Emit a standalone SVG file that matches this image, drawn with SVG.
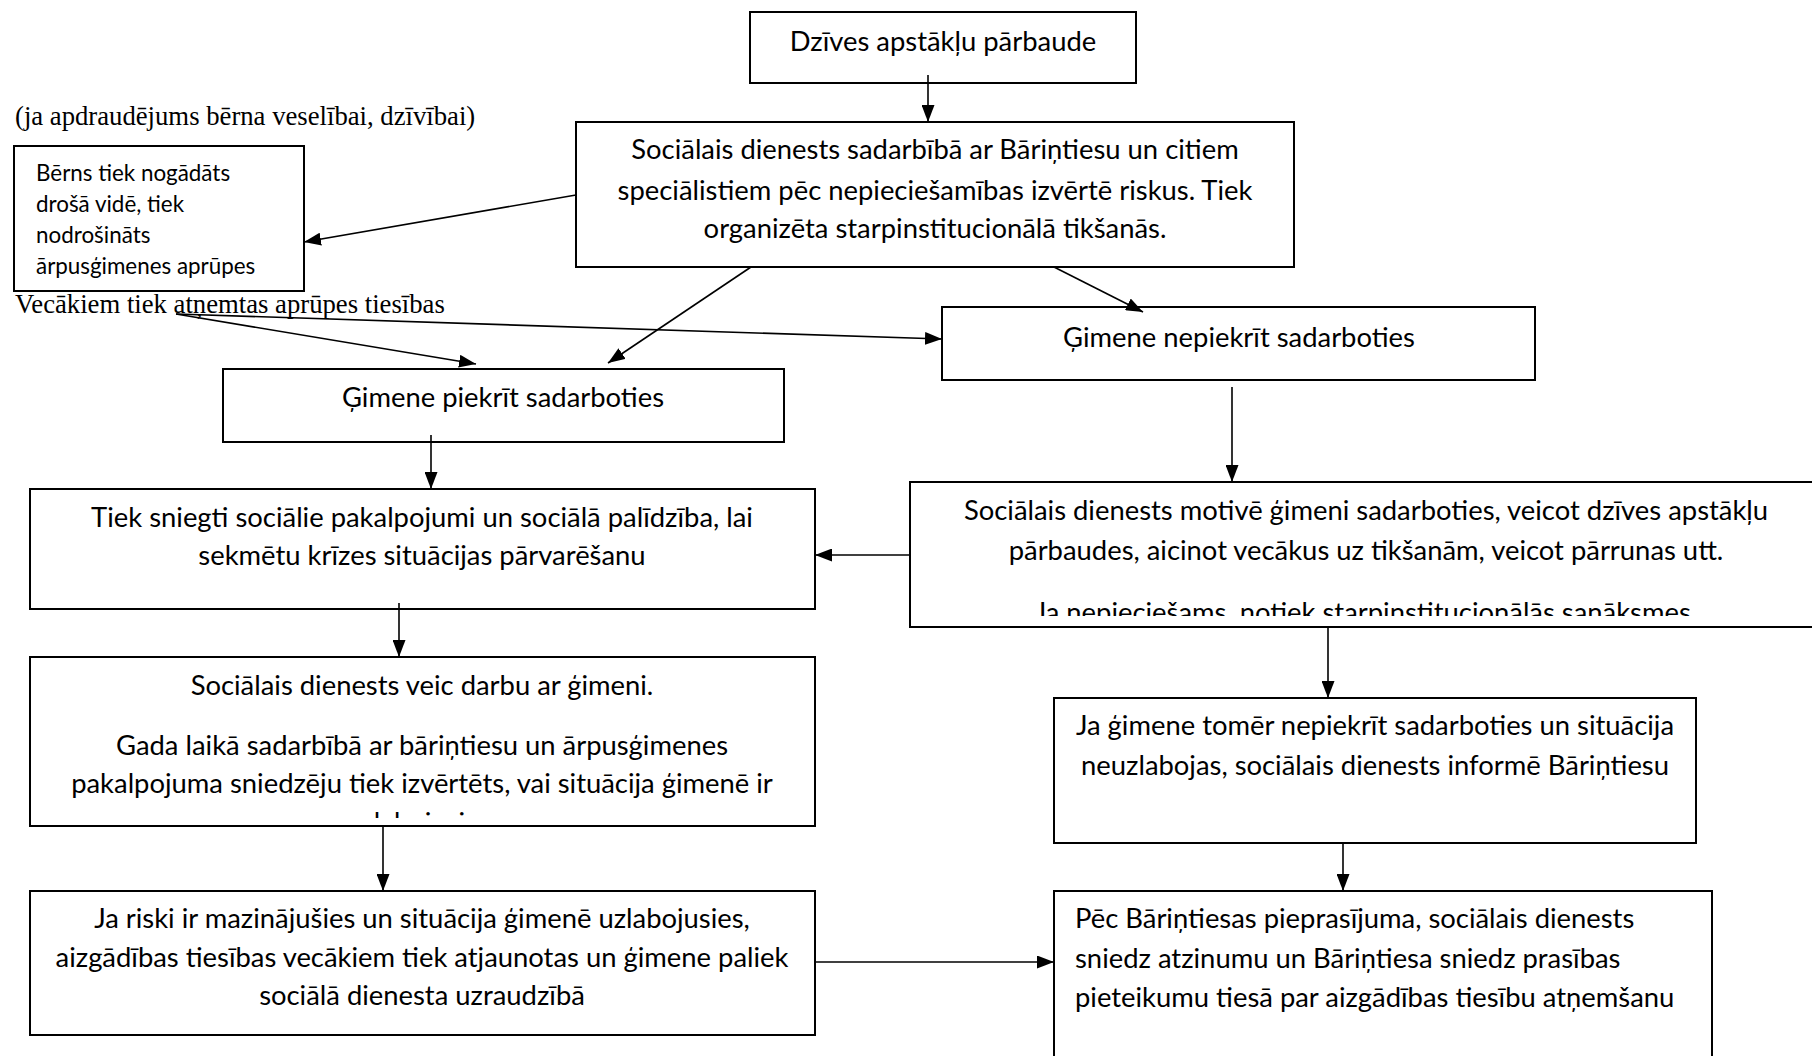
<svg xmlns="http://www.w3.org/2000/svg" width="1812" height="1056" viewBox="0 0 1812 1056">
<style>
.box{fill:#fff;stroke:#000;stroke-width:2}
.t{font-family:"Lato","Open Sans","Liberation Sans",sans-serif;font-size:27.4px;fill:#000}
.c{text-anchor:middle}
.s{font-size:22.4px}
.serif{font-family:"Liberation Serif","Times New Roman",serif;font-size:26.7px;fill:#000}
.ln{stroke:#000;stroke-width:1.6;fill:none;marker-end:url(#ah)}
</style>
<defs>
<marker id="ah" markerUnits="userSpaceOnUse" markerWidth="17" markerHeight="13" viewBox="0 0 17 13" refX="17" refY="6.5" orient="auto">
<path d="M0,0 L17,6.5 L0,13 Z" fill="#000"/>
</marker>
<clipPath id="clipMot"><rect x="910" y="482" width="912" height="134"/></clipPath>
<clipPath id="clipDarbu"><rect x="30" y="657" width="785" height="161"/></clipPath>
</defs>
<rect width="1812" height="1056" fill="#fff"/>

<g id="label-apdraudejums"><text class="serif" x="15" y="125">(ja apdraudējums bērna veselībai, dzīvībai)</text></g>
<g id="label-vecakiem"><text class="serif" x="15" y="313">Vecākiem tiek atņemtas aprūpes tiesības</text></g>

<g id="n-dzives">
<rect class="box" x="750" y="12" width="386" height="71"/>
<text class="t c" x="943" y="51">Dzīves apstākļu pārbaude</text>
</g>

<g id="n-socialais">
<rect class="box" x="576" y="122" width="718" height="145"/>
<text class="t c" x="935" y="159">Sociālais dienests sadarbībā ar Bāriņtiesu un citiem</text>
<text class="t c" x="935" y="200">speciālistiem pēc nepieciešamības izvērtē riskus. Tiek</text>
<text class="t c" x="935" y="238">organizēta starpinstitucionālā tikšanās.</text>
</g>

<g id="n-berns">
<rect class="box" x="14" y="146" width="290" height="145"/>
<text class="t s" x="36" y="181">Bērns tiek nogādāts</text>
<text class="t s" x="36" y="212">drošā vidē, tiek</text>
<text class="t s" x="36" y="243">nodrošināts</text>
<text class="t s" x="36" y="274">ārpusģimenes aprūpes</text>
</g>

<g id="n-nepiekrit">
<rect class="box" x="942" y="307" width="593" height="73"/>
<text class="t c" x="1239" y="347">Ģimene nepiekrīt sadarboties</text>
</g>

<g id="n-piekrit">
<rect class="box" x="223" y="369" width="561" height="73"/>
<text class="t c" x="503" y="407">Ģimene piekrīt sadarboties</text>
</g>

<g id="n-tiek">
<rect class="box" x="30" y="489" width="785" height="120"/>
<text class="t c" x="422" y="527">Tiek sniegti sociālie pakalpojumi un sociālā palīdzība, lai</text>
<text class="t c" x="422" y="565">sekmētu krīzes situācijas pārvarēšanu</text>
</g>

<g id="n-motive">
<rect class="box" x="910" y="482" width="920" height="145"/>
<text class="t c" x="1366" y="520">Sociālais dienests motivē ģimeni sadarboties, veicot dzīves apstākļu</text>
<text class="t c" x="1366" y="560">pārbaudes, aicinot vecākus uz tikšanām, veicot pārrunas utt.</text>
<text class="t c" x="1366" y="622" clip-path="url(#clipMot)">Ja nepieciešams, notiek starpinstitucionālās sanāksmes.</text>
</g>

<g id="n-darbu">
<rect class="box" x="30" y="657" width="785" height="169"/>
<text class="t c" x="422" y="695">Sociālais dienests veic darbu ar ģimeni.</text>
<text class="t c" x="422" y="755">Gada laikā sadarbībā ar bāriņtiesu un ārpusģimenes</text>
<text class="t c" x="422" y="793">pakalpojuma sniedzēju tiek izvērtēts, vai situācija ģimenē ir</text>
<text class="t c" x="422" y="832" clip-path="url(#clipDarbu)">uzlabojusies.</text>
</g>

<g id="n-tomer">
<rect class="box" x="1054" y="698" width="642" height="145"/>
<text class="t c" x="1375" y="735">Ja ģimene tomēr nepiekrīt sadarboties un situācija</text>
<text class="t c" x="1375" y="775">neuzlabojas, sociālais dienests informē Bāriņtiesu</text>
</g>

<g id="n-riski">
<rect class="box" x="30" y="891" width="785" height="144"/>
<text class="t c" x="422" y="928">Ja riski ir mazinājušies un situācija ģimenē uzlabojusies,</text>
<text class="t c" x="422" y="967">aizgādības tiesības vecākiem tiek atjaunotas un ģimene paliek</text>
<text class="t c" x="422" y="1005">sociālā dienesta uzraudzībā</text>
</g>

<g id="n-pec">
<rect class="box" x="1054" y="891" width="658" height="180"/>
<text class="t" x="1075" y="928">Pēc Bāriņtiesas pieprasījuma, sociālais dienests</text>
<text class="t" x="1075" y="968">sniedz atzinumu un Bāriņtiesa sniedz prasības</text>
<text class="t" x="1075" y="1007">pieteikumu tiesā par aizgādības tiesību atņemšanu</text>
</g>

<g id="connectors">
<line class="ln" x1="928" y1="75" x2="928" y2="122"/>
<line class="ln" x1="576" y1="195" x2="304" y2="242"/>
<line class="ln" x1="751" y1="267" x2="608" y2="363"/>
<line class="ln" x1="1054" y1="267" x2="1143" y2="312"/>
<line class="ln" x1="176" y1="314" x2="476" y2="364"/>
<line class="ln" x1="176" y1="314" x2="942" y2="339"/>
<line class="ln" x1="431" y1="435" x2="431" y2="489"/>
<line class="ln" x1="1232" y1="387" x2="1232" y2="482"/>
<line class="ln" x1="910" y1="555" x2="815" y2="555"/>
<line class="ln" x1="399" y1="603" x2="399" y2="657"/>
<line class="ln" x1="383" y1="826" x2="383" y2="891"/>
<line class="ln" x1="1328" y1="627" x2="1328" y2="698"/>
<line class="ln" x1="1343" y1="843" x2="1343" y2="891"/>
<line class="ln" x1="815" y1="962" x2="1054" y2="962"/>
</g>
</svg>
